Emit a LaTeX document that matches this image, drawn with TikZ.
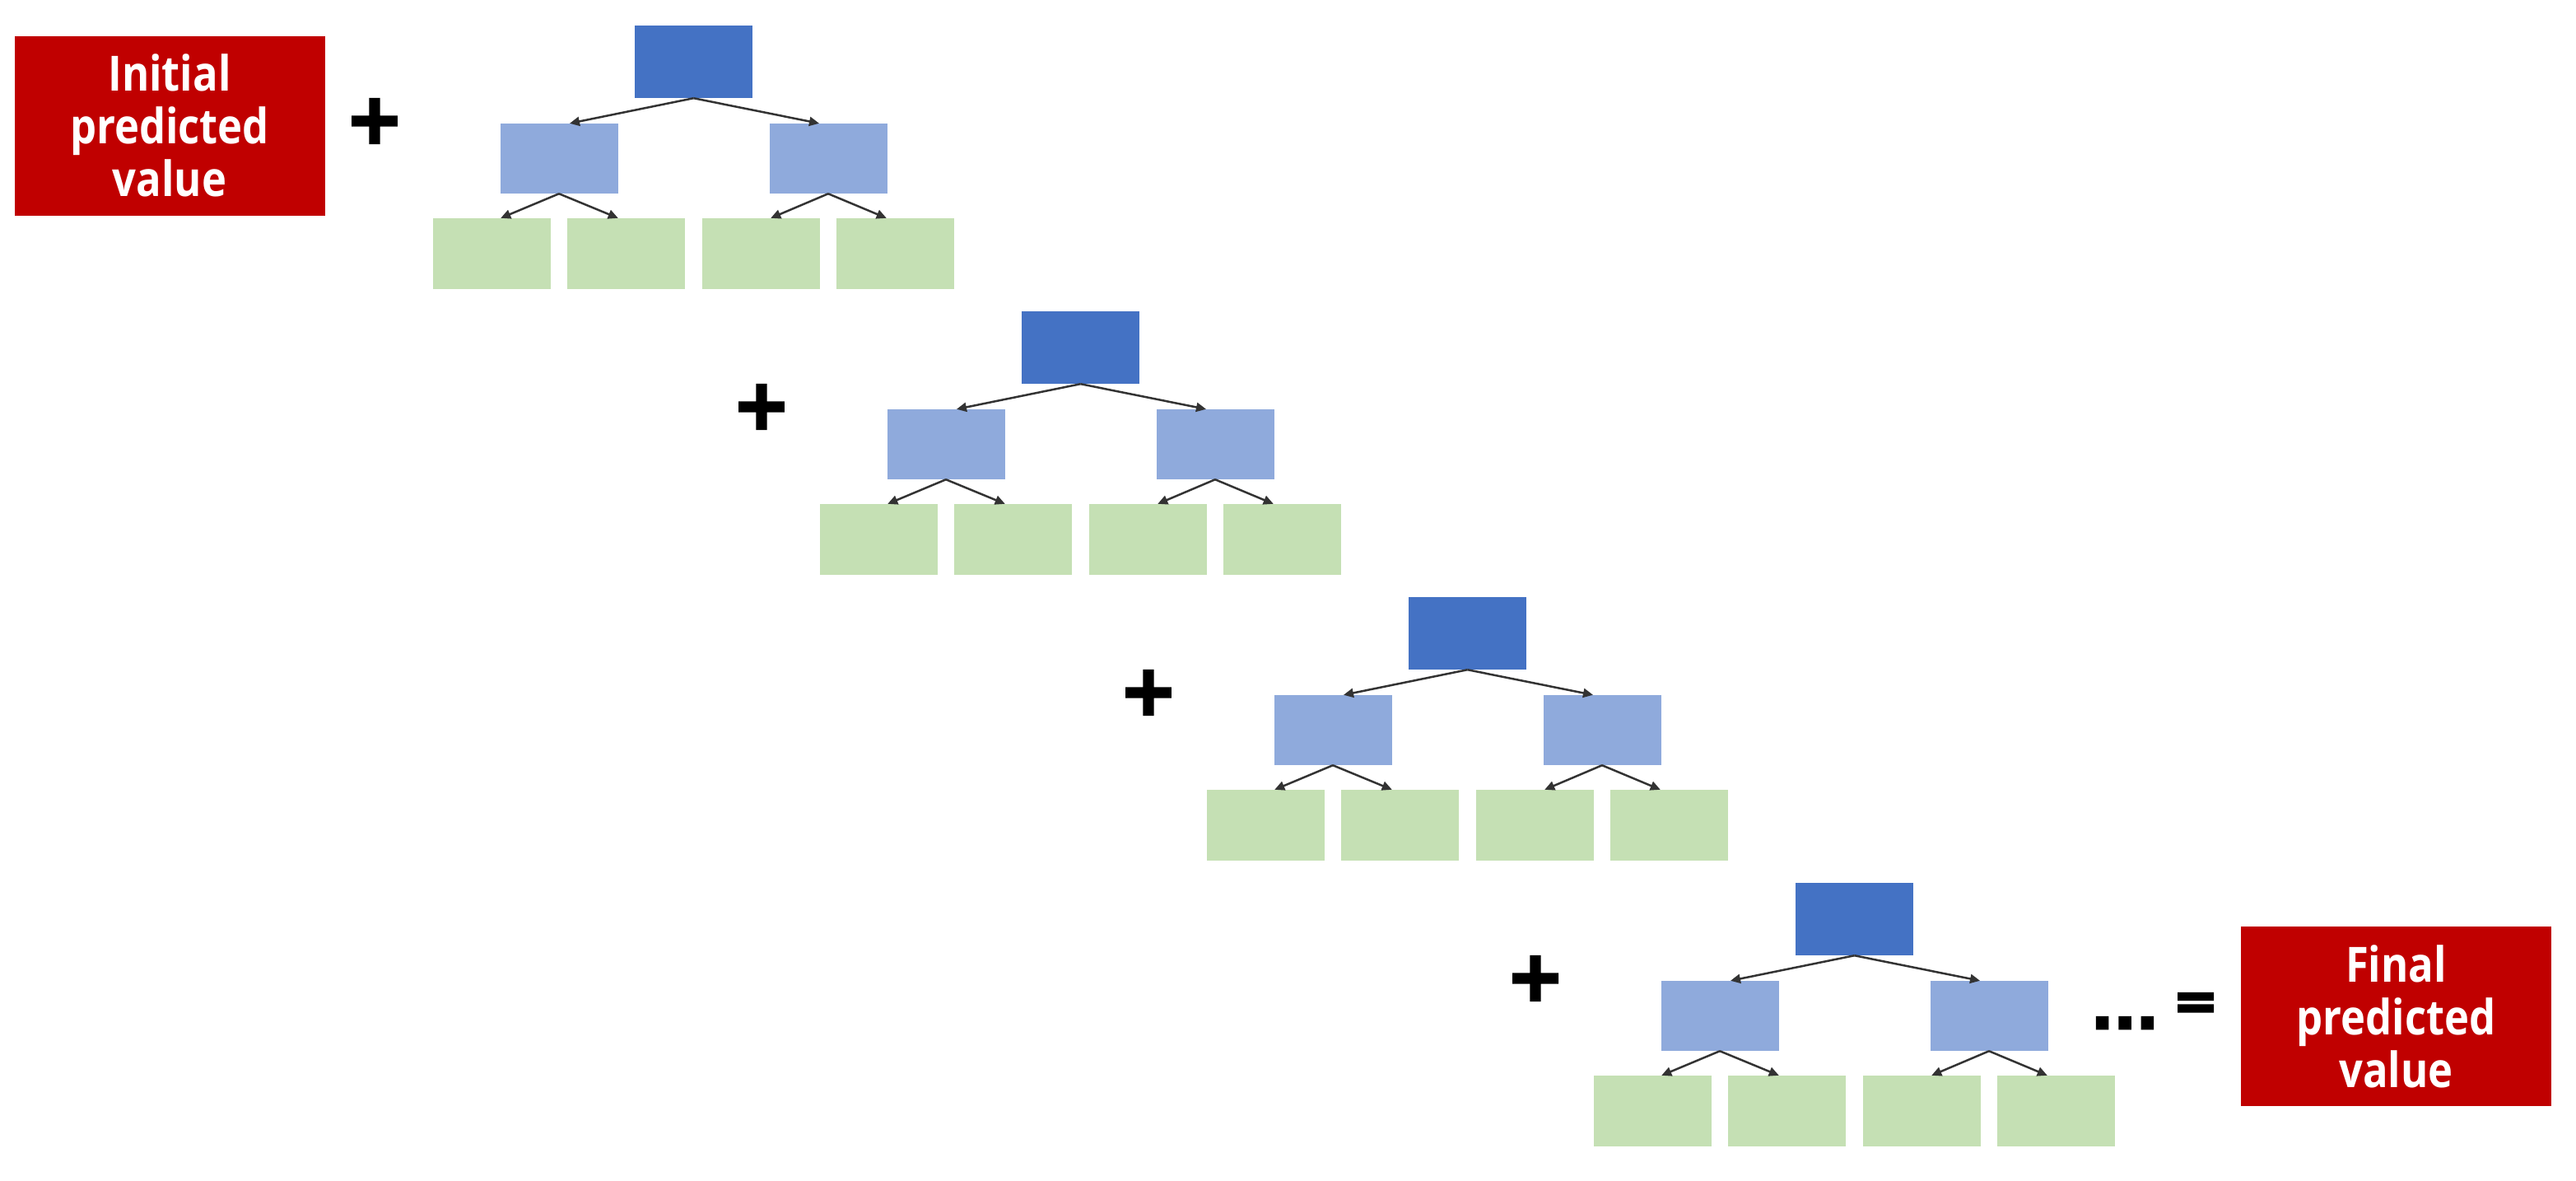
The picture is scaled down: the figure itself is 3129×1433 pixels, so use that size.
\documentclass[tikz,border=0pt]{standalone}
\usepackage{fontspec}
\usetikzlibrary{arrows.meta}
\newfontfamily\lblfont{Open Sans}[FakeStretch=0.86]
\newfontfamily\signfont{DejaVu Sans Bold}[FakeBold=4]
\definecolor{rootblue}{HTML}{4472C4}
\definecolor{midblue}{HTML}{8FAADC}
\definecolor{leafgreen}{HTML}{C5E0B4}
\definecolor{redfill}{HTML}{C00000}
\definecolor{linkgray}{HTML}{333333}
\begin{document}
\begin{tikzpicture}[x=1pt,y=-1pt,
  box/.style={minimum width=143pt, minimum height=87pt, inner sep=0pt, draw=none},
  rootbox/.style={box, fill=rootblue, minimum height=88pt},
  midbox/.style={box, fill=midblue, minimum height=85pt},
  leafbox/.style={box, fill=leafgreen, minimum height=86pt},
  link/.style={draw=linkgray, line width=2.5pt, -{Triangle[length=12pt,width=11pt]}},
  redbox/.style={fill=redfill, text=white, minimum width=377pt, minimum height=218pt, inner sep=0pt, align=center, font=\lblfont\bfseries\fontsize{59}{64}\selectfont},
  sign/.style={font=\signfont\fontsize{84}{84}\selectfont, inner sep=0pt},
  dotsign/.style={font=\signfont\fontsize{72}{72}\selectfont, inner sep=0pt},
  eqsign/.style={font=\signfont\fontsize{66}{66}\selectfont, inner sep=0pt}
]
\useasboundingbox (0,0) rectangle (3129,1433);

\node[redbox] (init) at (206,152.5) {Initial\\predicted\\value};

\foreach \k in {0,1,2,3}{
  \pgfmathsetmacro{\cx}{842.5+470*\k}
  \pgfmathsetmacro{\cy}{75+347*\k}
  \node[rootbox] (r\k) at (\cx,\cy) {};
  \node[midbox] (ml\k) at (\cx-163.5,\cy+117.5) {};
  \node[midbox] (mr\k) at (\cx+163.5,\cy+117.5) {};
  \node[leafbox] (la\k) at (\cx-245.25,\cy+233) {};
  \node[leafbox] (lb\k) at (\cx-81.75,\cy+233) {};
  \node[leafbox] (lc\k) at (\cx+81.75,\cy+233) {};
  \node[leafbox] (ld\k) at (\cx+245.25,\cy+233) {};
  \draw[link] (r\k.south) -- ([xshift=13pt]ml\k.north);
  \draw[link] (r\k.south) -- ([xshift=-11pt]mr\k.north);
  \draw[link] (ml\k.south) -- ([xshift=11pt]la\k.north);
  \draw[link] (ml\k.south) -- ([xshift=-10pt]lb\k.north);
  \draw[link] (mr\k.south) -- ([xshift=12pt]lc\k.north);
  \draw[link] (mr\k.south) -- ([xshift=-11pt]ld\k.north);
  \node[sign] (plus\k) at (455+470*\k,147+347*\k) {+};
}

\node[dotsign] (dots) at (2581,1242) {...};
\node[eqsign] (eq) at (2667,1222) {=};
\node[redbox] (final) at (2910.5,1234) {Final\\predicted\\value};
\end{tikzpicture}
\end{document}
